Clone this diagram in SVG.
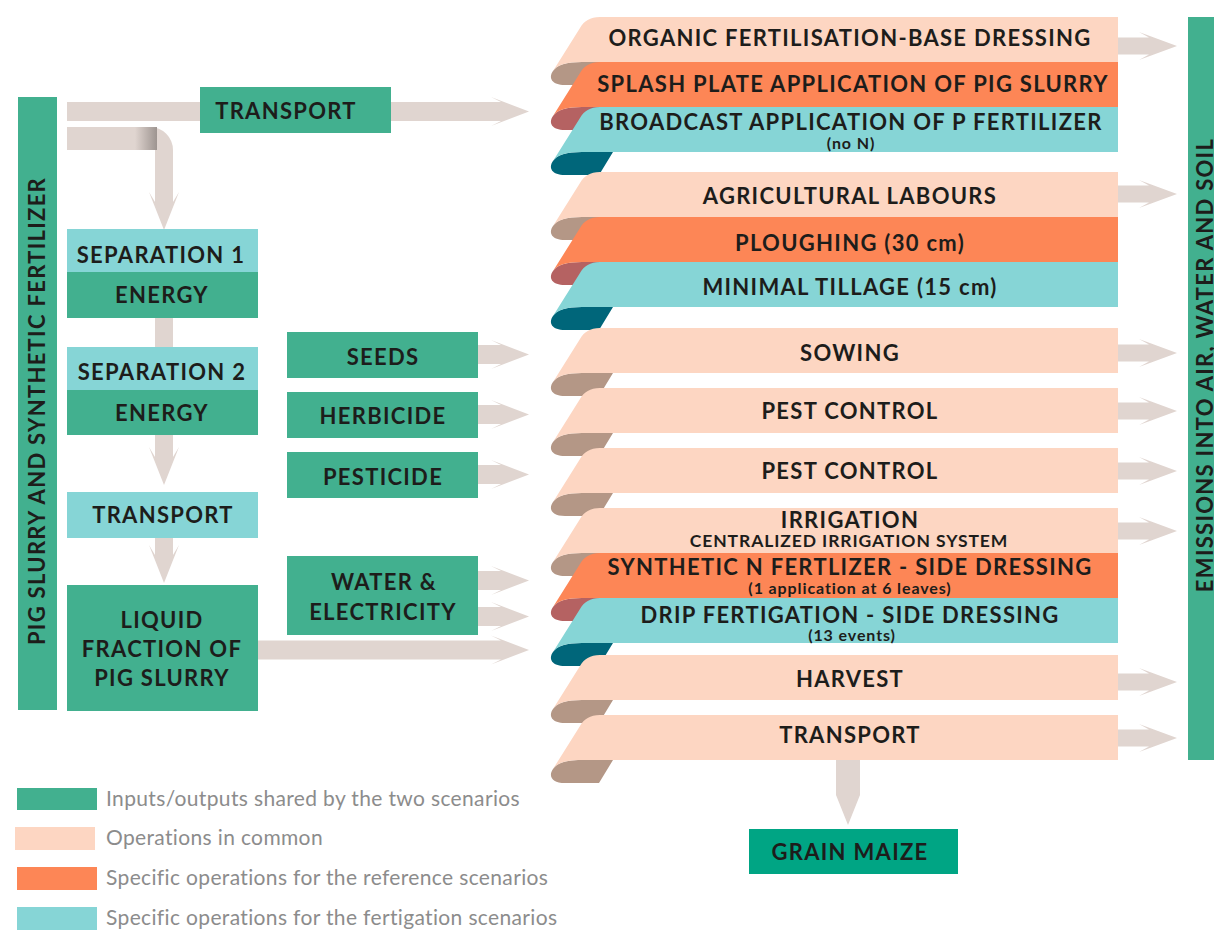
<svg xmlns="http://www.w3.org/2000/svg" width="1214" height="930" viewBox="0 0 1214 930">
  <style>
    .lbl { font-family: Lato, "Open Sans", "Liberation Sans", sans-serif; font-weight: 700; font-size: 22px; letter-spacing: 1.3px; fill: #1d1d1b; text-anchor: middle; }
    .lbl.sub { font-size: 17.5px; letter-spacing: 0.9px; }
    .lbl.note { font-size: 16px; letter-spacing: 0.9px; }
    .leg { font-family: Lato, "Open Sans", "Liberation Sans", sans-serif; font-weight: 400; font-size: 21px; letter-spacing: 0.35px; fill: #8c8c8c; }
    .green { fill: #42b08f; }
    .maize { fill: #00a584; }
    .cyan { fill: #86d5d6; }
    .peach { fill: #fdd6c2; }
    .orange { fill: #fd8656; }
    .fold-peach { fill: #b49786; }
    .fold-orange { fill: #b56262; }
    .fold-cyan { fill: #00667a; }
    .flow { fill: #e0d5d0; }
  </style>
  <defs>
    <!-- ribbon front face, drawn with its top edge at y=0 -->
    <path id="body" d="M 1118,0 H 600 C 590,0 584,4 580,11 L 553,54 C 557,48 566,45 582,45 H 1118 Z"/>
    <!-- curled underside showing below the left end of a ribbon -->
    <path id="fold" d="M 553,54 C 557,48 566,45 582,45 H 613 L 599,68 H 565 C 552,68 548,61 553,54 Z"/>
    <linearGradient id="bend" gradientUnits="userSpaceOnUse" x1="135" y1="0" x2="157" y2="0">
      <stop offset="0" stop-color="#9d9490" stop-opacity="0"/>
      <stop offset="1" stop-color="#9d9490" stop-opacity="1"/>
    </linearGradient>
  </defs>

  <!-- connectors -->
  <g id="connectors">
    <path class="flow" d="M 67,102 H 501 L 491,97 L 529,111.5 L 491,126 L 501,121 H 67 Z"/>
    <path class="flow" d="M 67,127 H 150 A 23 23 0 0 1 173,150 V 202 L 179,192 L 164,230 L 149,192 L 155,202 V 150 H 67 Z"/>
    <rect x="135" y="127" width="22" height="23" fill="url(#bend)"/>
    <rect class="flow" x="155" y="318" width="18" height="29"/>
    <path class="flow" d="M 155,435 V 457 L 149,447 L 164,485 L 179,447 L 173,457 V 435 Z"/>
    <path class="flow" d="M 155,538 V 555 L 149,545 L 164,583 L 179,545 L 173,555 V 538 Z"/>
    <path class="flow" d="M 478,345 H 501 L 491,340 L 529,354.5 L 491,369 L 501,364 H 478 Z"/>
    <path class="flow" d="M 478,405 H 501 L 491,400 L 529,414.5 L 491,429 L 501,424 H 478 Z"/>
    <path class="flow" d="M 478,465 H 501 L 491,460 L 529,474.5 L 491,489 L 501,484 H 478 Z"/>
    <path class="flow" d="M 478,571 H 501 L 491,566 L 529,580.5 L 491,595 L 501,590 H 478 Z"/>
    <path class="flow" d="M 478,607 H 501 L 491,602 L 529,616.5 L 491,631 L 501,626 H 478 Z"/>
    <path class="flow" d="M 258,640.5 H 501 L 491,635.5 L 529,650 L 491,664.5 L 501,659.5 H 258 Z"/>
    <path class="flow" d="M 1118,37.5 H 1149 L 1139,32 L 1177,46 L 1139,60 L 1149,54.5 H 1118 Z"/>
    <path class="flow" d="M 1118,185.5 H 1149 L 1139,180 L 1177,194 L 1139,208 L 1149,202.5 H 1118 Z"/>
    <path class="flow" d="M 1118,344.5 H 1149 L 1139,339 L 1177,353 L 1139,367 L 1149,361.5 H 1118 Z"/>
    <path class="flow" d="M 1118,402.5 H 1149 L 1139,397 L 1177,411 L 1139,425 L 1149,419.5 H 1118 Z"/>
    <path class="flow" d="M 1118,462.5 H 1149 L 1139,457 L 1177,471 L 1139,485 L 1149,479.5 H 1118 Z"/>
    <path class="flow" d="M 1118,522.5 H 1149 L 1139,517 L 1177,531 L 1139,545 L 1149,539.5 H 1118 Z"/>
    <path class="flow" d="M 1118,673.5 H 1149 L 1139,668 L 1177,682 L 1139,696 L 1149,690.5 H 1118 Z"/>
    <path class="flow" d="M 1118,729.5 H 1149 L 1139,724 L 1177,738 L 1139,752 L 1149,746.5 H 1118 Z"/>
    <path class="flow" d="M 836,760 V 795 L 832,785 L 848,825 L 864,785 L 860,795 V 760 Z"/>
  </g>

  <!-- left column -->
  <g id="pig-slurry-bar">
    <rect class="green" x="18" y="97" width="39" height="613"/>
    <text class="lbl" transform="translate(45,411) rotate(-90)">PIG SLURRY AND SYNTHETIC FERTILIZER</text>
  </g>
  <g id="transport-top">
    <rect class="green" x="200" y="87" width="191" height="46"/>
    <text class="lbl" x="286" y="119">TRANSPORT</text>
  </g>
  <g id="separation-1">
    <rect class="cyan" x="67" y="229" width="191" height="43"/>
    <text class="lbl" x="161" y="263">SEPARATION 1</text>
  </g>
  <g id="energy-1">
    <rect class="green" x="67" y="272" width="191" height="46"/>
    <text class="lbl" x="162" y="303">ENERGY</text>
  </g>
  <g id="separation-2">
    <rect class="cyan" x="67" y="347" width="191" height="43"/>
    <text class="lbl" x="162" y="380">SEPARATION 2</text>
  </g>
  <g id="energy-2">
    <rect class="green" x="67" y="390" width="191" height="45"/>
    <text class="lbl" x="162" y="421">ENERGY</text>
  </g>
  <g id="transport-left">
    <rect class="cyan" x="67" y="492" width="191" height="46"/>
    <text class="lbl" x="163" y="523">TRANSPORT</text>
  </g>
  <g id="liquid-fraction">
    <rect class="green" x="67" y="585" width="191" height="126"/>
    <text class="lbl" x="162" y="628">LIQUID</text>
    <text class="lbl" x="162" y="657">FRACTION OF</text>
    <text class="lbl" x="162" y="686">PIG SLURRY</text>
  </g>

  <!-- inputs -->
  <g id="seeds">
    <rect class="green" x="287" y="332" width="191" height="46"/>
    <text class="lbl" x="383" y="365">SEEDS</text>
  </g>
  <g id="herbicide">
    <rect class="green" x="287" y="392" width="191" height="46"/>
    <text class="lbl" x="383" y="424">HERBICIDE</text>
  </g>
  <g id="pesticide">
    <rect class="green" x="287" y="452" width="191" height="46"/>
    <text class="lbl" x="383" y="485">PESTICIDE</text>
  </g>
  <g id="water-electricity">
    <rect class="green" x="287" y="556" width="191" height="79"/>
    <text class="lbl" x="384" y="590">WATER &amp;</text>
    <text class="lbl" x="383" y="620">ELECTRICITY</text>
  </g>

  <!-- field operations -->
  <g id="organic-fertilisation">
    <use href="#fold" class="fold-peach" y="17"/>
    <use href="#body" class="peach" y="17"/>
    <text class="lbl" x="850" y="46">ORGANIC FERTILISATION-BASE DRESSING</text>
  </g>
  <g id="splash-plate">
    <use href="#fold" class="fold-orange" y="62"/>
    <use href="#body" class="orange" y="62"/>
    <text class="lbl" x="853" y="92">SPLASH PLATE APPLICATION OF PIG SLURRY</text>
  </g>
  <g id="broadcast-p">
    <use href="#fold" class="fold-cyan" y="107"/>
    <use href="#body" class="cyan" y="107"/>
    <text class="lbl" x="851" y="130">BROADCAST APPLICATION OF P FERTILIZER</text>
    <text class="lbl note" x="851" y="149">(no N)</text>
  </g>
  <g id="agricultural-labours">
    <use href="#fold" class="fold-peach" y="172"/>
    <use href="#body" class="peach" y="172"/>
    <text class="lbl" x="850" y="204">AGRICULTURAL LABOURS</text>
  </g>
  <g id="ploughing">
    <use href="#fold" class="fold-orange" y="217"/>
    <use href="#body" class="orange" y="217"/>
    <text class="lbl" x="850" y="251">PLOUGHING (30 cm)</text>
  </g>
  <g id="minimal-tillage">
    <use href="#fold" class="fold-cyan" y="262"/>
    <use href="#body" class="cyan" y="262"/>
    <text class="lbl" x="850" y="295">MINIMAL TILLAGE (15 cm)</text>
  </g>
  <g id="sowing">
    <use href="#fold" class="fold-peach" y="328"/>
    <use href="#body" class="peach" y="328"/>
    <text class="lbl" x="850" y="361">SOWING</text>
  </g>
  <g id="pest-control-1">
    <use href="#fold" class="fold-peach" y="388"/>
    <use href="#body" class="peach" y="388"/>
    <text class="lbl" x="850" y="419">PEST CONTROL</text>
  </g>
  <g id="pest-control-2">
    <use href="#fold" class="fold-peach" y="448"/>
    <use href="#body" class="peach" y="448"/>
    <text class="lbl" x="850" y="479">PEST CONTROL</text>
  </g>
  <g id="irrigation">
    <use href="#fold" class="fold-peach" y="508"/>
    <use href="#body" class="peach" y="508"/>
    <text class="lbl" x="850" y="528">IRRIGATION</text>
    <text class="lbl sub" x="849" y="547">CENTRALIZED IRRIGATION SYSTEM</text>
  </g>
  <g id="synthetic-n">
    <use href="#fold" class="fold-orange" y="553"/>
    <use href="#body" class="orange" y="553"/>
    <text class="lbl" x="850" y="575">SYNTHETIC N FERTLIZER - SIDE DRESSING</text>
    <text class="lbl note" x="850" y="594">(1 application at 6 leaves)</text>
  </g>
  <g id="drip-fertigation">
    <use href="#fold" class="fold-cyan" y="598"/>
    <use href="#body" class="cyan" y="598"/>
    <text class="lbl" x="850" y="623">DRIP FERTIGATION - SIDE DRESSING</text>
    <text class="lbl note" x="852" y="641">(13 events)</text>
  </g>
  <g id="harvest">
    <use href="#fold" class="fold-peach" y="655"/>
    <use href="#body" class="peach" y="655"/>
    <text class="lbl" x="850" y="687">HARVEST</text>
  </g>
  <g id="transport-field">
    <use href="#fold" class="fold-peach" y="715"/>
    <use href="#body" class="peach" y="715"/>
    <text class="lbl" x="850" y="743">TRANSPORT</text>
  </g>

  <!-- outputs -->
  <g id="emissions-bar">
    <rect class="green" x="1188" y="17" width="30" height="743"/>
    <text class="lbl" transform="translate(1213,365) rotate(-90)">EMISSIONS INTO AIR, WATER AND SOIL</text>
  </g>
  <g id="grain-maize">
    <rect class="maize" x="749" y="829" width="209" height="45"/>
    <text class="lbl" x="850" y="860">GRAIN MAIZE</text>
  </g>

  <!-- legend -->
  <g id="legend">
    <rect class="green" x="17" y="788" width="80" height="22"/>
    <text class="leg" x="106" y="806">Inputs/outputs shared by the two scenarios</text>
    <rect class="peach" x="15" y="827" width="80" height="23"/>
    <text class="leg" x="106" y="845">Operations in common</text>
    <rect class="orange" x="17" y="867" width="80" height="23"/>
    <text class="leg" x="106" y="885">Specific operations for the reference scenarios</text>
    <rect class="cyan" x="17" y="907" width="80" height="23"/>
    <text class="leg" x="106" y="925">Specific operations for the fertigation scenarios</text>
  </g>
</svg>
